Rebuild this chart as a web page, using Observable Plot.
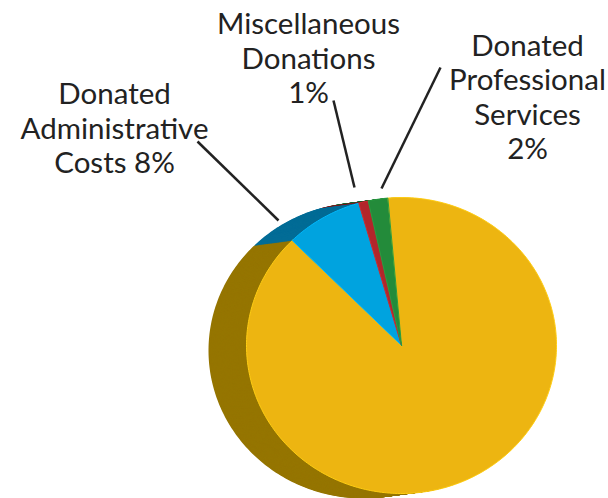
<!DOCTYPE html>
<html>
<head>
<meta charset="utf-8">
<script src="https://cdn.jsdelivr.net/npm/d3@7"></script>
<script src="https://cdn.jsdelivr.net/npm/@observablehq/plot@0.6"></script>
<style>
  html, body { margin: 0; padding: 0; background: #fff; }
  #chart { width: 608px; height: 498px; overflow: hidden; }
</style>
</head>
<body>
<div id="chart"></div>
<script>
// ---- data ----
const categories = ["Other Contributions", "Donated Administrative Costs", "Miscellaneous Donations", "Donated Professional Services"];
const values = [89, 8, 1, 2];
const labelTexts = ["", "Donated\nAdministrative\nCosts 8%", "Miscellaneous\nDonations\n1%", "Donated\nProfessional\nServices\n2%"];

// ---- styles / layout ----
const topColors = ["#EDB511", "#00A3DF", "#B2262B", "#238B3A"];
const sideColors = ["#957500", "#026C96", "#7a1a1d", "#17602a"];
const W = 608, H = 498;
const pie = {cx: 401, cy: 345, rx: 155, ry: 148, startDeg: -5.2, depthX: -38, depthY: 5};
const labelLayout = [
  null,
  {x: 114, y: 127, x1: 197, y1: 141, x2: 278, y2: 220},
  {x: 308, y: 57, x1: 333, y1: 100, x2: 354, y2: 187},
  {x: 527, y: 96, x1: 440, y1: 67, x2: 381, y2: 188}
];

const start = pie.startDeg * Math.PI / 180;
const arcs = d3.pie().sort(null).value(d => d).startAngle(start).endAngle(start + 2 * Math.PI)(values);

function slicePoints(a, dx, dy) {
  const pts = [[pie.cx + dx, pie.cy + dy]];
  const n = Math.max(2, Math.ceil((a.endAngle - a.startAngle) / (Math.PI / 180)));
  for (let k = 0; k <= n; k++) {
    const t = a.startAngle + (a.endAngle - a.startAngle) * k / n;
    pts.push([pie.cx + dx + pie.rx * Math.sin(t), pie.cy + dy - pie.ry * Math.cos(t)]);
  }
  return pts;
}

const sideRows = [];
const LAYERS = 40;
for (let L = LAYERS; L >= 1; L--) {
  const f = L / LAYERS;
  arcs.forEach((a, i) => {
    slicePoints(a, pie.depthX * f, pie.depthY * f).forEach(([x, y]) =>
      sideRows.push({id: `L${L}-${i}`, x, y, fill: sideColors[i]}));
  });
}
const topRows = [];
arcs.forEach((a, i) => {
  slicePoints(a, 0, 0).forEach(([x, y]) =>
    topRows.push({id: `T${i}`, x, y, fill: topColors[i], stroke: d3.color(topColors[i]).brighter(0.35).formatHex()}));
});

const labels = arcs.map((a, i) => labelLayout[i] ? {text: labelTexts[i], ...labelLayout[i]} : null).filter(d => d);

const chart = Plot.plot({
  width: W,
  height: H,
  margin: 0,
  x: {domain: [0, W], range: [0, W], axis: null},
  y: {domain: [0, H], range: [0, H], axis: null},
  color: {type: "identity"},
  style: {background: "white"},
  marks: [
    Plot.line(sideRows, {x: "x", y: "y", z: "id", fill: "fill", stroke: "none", curve: "linear-closed"}),
    Plot.line(topRows, {x: "x", y: "y", z: "id", fill: "fill", stroke: "stroke", strokeWidth: 1, curve: "linear-closed"}),
    Plot.link(labels, {x1: "x1", y1: "y1", x2: "x2", y2: "y2", stroke: "#222", strokeWidth: 2.5}),
    Plot.text(labels, {x: "x", y: "y", text: "text", fill: "#222", fontSize: 29.5, fontFamily: "Lato", lineHeight: 1.17, textAnchor: "middle", lineAnchor: "middle"})
  ]
});
document.getElementById("chart").appendChild(chart);
</script>
</body>
</html>
